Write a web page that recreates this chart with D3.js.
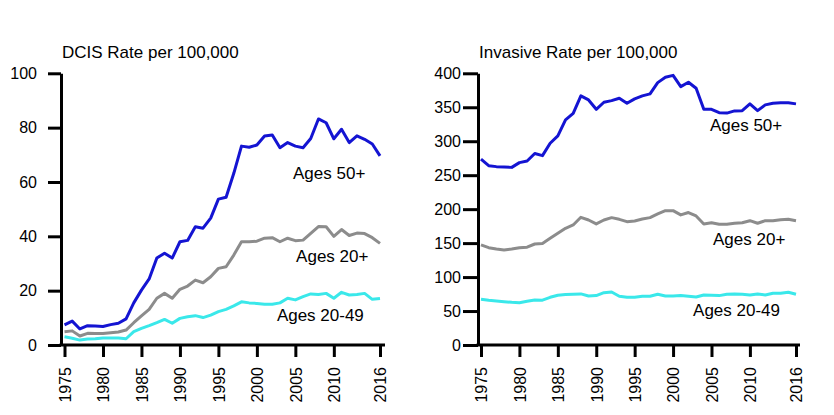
<!DOCTYPE html>
<html><head><meta charset="utf-8">
<script src="https://cdn.jsdelivr.net/npm/d3@7/dist/d3.min.js"></script>
<style>
body{margin:0;background:#fff;}
text{font-family:"Liberation Sans",Arial,sans-serif;fill:#000;}
</style></head>
<body><svg id="c" width="834" height="415"></svg>
<script>
const years = d3.range(1975, 2017);
const xTicks = [1975,1980,1985,1990,1995,2000,2005,2010,2016];

const dcisTitle = "DCIS Rate per 100,000";
const dcisYTicks = [0,20,40,60,80,100];
const dcis50 = [7.4,8.8,5.9,7.1,7.0,6.8,7.5,8.0,9.6,15.5,20.2,24.3,32.0,33.8,32.0,38.0,38.5,43.5,43.0,46.7,53.7,54.4,63.2,73.2,72.8,73.6,76.9,77.3,72.6,74.5,73.2,72.6,76.0,83.2,81.8,75.9,79.4,74.5,77.0,75.7,74.0,69.6];
const dcis20 = [4.9,5.2,3.3,4.3,4.2,4.2,4.5,4.8,5.5,8.2,10.7,13.1,17.2,19.0,17.2,20.5,21.7,23.9,22.9,25.1,28.2,28.8,33.1,38.0,38.0,38.2,39.3,39.5,38.0,39.3,38.4,38.6,41.1,43.6,43.5,40.0,42.5,40.3,41.2,41.0,39.5,37.4];
const dcis2049 = [3.0,2.5,1.8,2.2,2.3,2.6,2.6,2.6,2.3,4.9,6.1,7.1,8.2,9.4,8.0,9.8,10.4,10.8,10.1,11.0,12.3,13.1,14.4,15.9,15.5,15.3,15.0,15.0,15.5,17.2,16.6,17.8,18.8,18.6,19.0,17.2,19.4,18.4,18.6,19.0,16.8,17.1];

const invTitle = "Invasive Rate per 100,000";
const invYTicks = [0,50,100,150,200,250,300,350,400];
const inv50 = [273.5,264,262.6,262,261.5,268.5,270.9,282,278.8,297,307.8,331.4,341,366.7,360.8,347,357.4,359.8,363.3,355.9,362.3,366.7,369.7,386.3,394.2,397,380.4,386.9,378,347,347,342,341.4,344.6,345,355,345,353.5,356,356.5,356.5,355];
const inv20 = [147.3,143.3,141.4,140,141.4,143.3,144,148.7,149.5,157,164.5,171.8,176.7,188,184,178.2,184,187.5,185,181.6,182.6,185.5,187.5,192.9,197.8,197.8,191.5,195,190,178.2,180,177.7,177.7,179.2,180,183,179.2,183,183,184.5,185,183];
const inv2049 = [67.3,65.8,64.8,63.8,62.8,62.3,64.3,66.3,66.0,70.2,73.2,74.2,74.7,75.2,72.2,72.7,77.1,78,71.7,70.2,70.2,71.7,71.7,74.7,72.2,72.2,72.7,71.7,70.7,73.7,73.2,72.7,74.7,75.2,74.7,73.7,75.2,73.7,76.2,76.2,77.6,74.7];

const seriesNames = ["Ages 50+","Ages 20+","Ages 20-49"];
const colors = ["#1414d2","#8c8c8c","#3ae8ea"];

const svg = d3.select("#c");

function panel(o){
  const g = svg.append("g");
  const x = d3.scaleLinear().domain([1975,2016]).range([o.x0+3.5, o.x1]);
  const y = d3.scaleLinear().domain([0, o.ymax]).range([345, 73.3]);
  g.append("text").attr("x", o.axX+1).attr("y", 58).attr("font-size", 17).text(o.title);
  o.series.forEach((s,i)=>{
    g.append("path").datum(s)
      .attr("fill","none").attr("stroke",colors[i]).attr("stroke-width",3)
      .attr("stroke-linejoin","round")
      .attr("d", d3.line().x((d,j)=>x(years[j])).y(d=>y(d)));
  });
  const ya = d3.axisLeft(y).tickValues(o.yTicks).tickSize(o.ytick).tickPadding(o.ypad).tickSizeOuter(0);
  const yg = g.append("g").attr("transform",`translate(${o.axX},0)`).call(ya);
  yg.select(".domain").attr("stroke","#000").attr("stroke-width",3);
  yg.selectAll(".tick line").attr("stroke","#000").attr("stroke-width",3);
  yg.selectAll(".tick text").attr("font-size",16).attr("font-family","Liberation Sans, Arial, sans-serif").attr("fill","#000");
  const xa = d3.axisBottom(x).tickValues(xTicks).tickFormat(d3.format("d")).tickSize(12).tickSizeOuter(0);
  const xg = g.append("g").attr("transform","translate(0,345)").call(xa);
  xg.select(".domain").attr("d", `M${o.axX-1.5},0H${o.axEnd}`).attr("stroke","#000").attr("stroke-width",3);
  xg.selectAll(".tick line").attr("stroke","#000").attr("stroke-width",3);
  xg.selectAll(".tick text").attr("font-size",16).attr("font-family","Liberation Sans, Arial, sans-serif").attr("fill","#000")
    .attr("transform","rotate(-90)").attr("text-anchor","end").attr("x",-22).attr("y",0).attr("dy","0.36em");
  o.labels.forEach((l,i)=>{
    g.append("text").attr("x", x(l[0])).attr("y", y(l[1])).attr("font-size",17).text(seriesNames[i]);
  });
}

panel({title:dcisTitle, x0:61, x1:380, axX:61, axEnd:385, ymax:100, yTicks:dcisYTicks, ytick:13, ypad:11,
  series:[dcis50,dcis20,dcis2049],
  labels:[[2004.7,61.2],[2005.1,30.5],[2002.6,8.8]]});
panel({title:invTitle, x0:477.5, x1:796, axX:478, axEnd:800, ymax:400, yTicks:invYTicks, ytick:15, ypad:2,
  series:[inv50,inv20,inv2049],
  labels:[[2004.8,315],[2005.2,147],[2002.6,42.5]]});
</script></body></html>
